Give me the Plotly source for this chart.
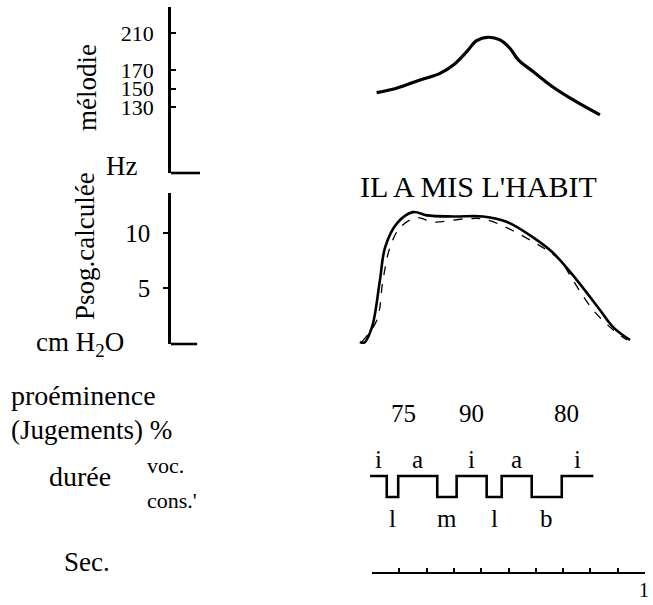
import plotly.graph_objects as go

# ---------------- data ----------------
# melody (Hz) over time (s)
mel_t = [0.017, 0.090, 0.176, 0.249, 0.298, 0.347, 0.383, 0.426, 0.469, 0.505, 0.536, 0.591, 0.664, 0.737, 0.835]
mel_hz = [145.5, 150.3, 159.2, 166.4, 175.4, 189.8, 201.7, 205.4, 202.5, 193.5, 180.9, 168.2, 151.3, 137.6, 121.4]
mel_ticks = [130, 150, 170, 210]

# subglottal pressure, computed (cm H2O): solid and dashed traces
ps_t = [-0.044, -0.03, 0.0, 0.029, 0.048, 0.092, 0.150, 0.201, 0.300, 0.407, 0.495, 0.590, 0.663, 0.751, 0.835, 0.883, 0.945]
ps_v = [0.1, 0.0, 1.45, 5.7, 8.7, 10.9, 11.9, 11.6, 11.5, 11.5, 11.0, 9.6, 8.2, 5.7, 3.0, 1.45, 0.27]
ps2_t = [-0.037, 0.018, 0.040, 0.066, 0.103, 0.165, 0.223, 0.348, 0.421, 0.590, 0.689, 0.736, 0.810, 0.883, 0.934]
ps2_v = [0.1, 2.1, 5.7, 8.7, 10.5, 11.4, 11.0, 11.3, 11.2, 9.2, 7.5, 5.7, 3.0, 1.2, 0.27]
ps_ticks = [5, 10]

# prominence judgements (%)
prom_t = [0.117, 0.363, 0.714]
prom_val = [75, 90, 80]

# durations: segment boundaries (s) and phones
dur_bounds = [-0.007, 0.054, 0.096, 0.239, 0.310, 0.420, 0.475, 0.585, 0.695, 0.811]
phones = ['i', 'l', 'a', 'm', 'i', 'l', 'a', 'b', 'i']
vowels = {'i', 'a'}

# seconds scale
sec_ticks = [0, 0.1, 0.2, 0.3, 0.4, 0.5, 0.6, 0.7, 0.8, 0.9, 1.0]
sec_label_val = 1
sec_label = "1"

title_text = "IL A MIS L'HABIT"

# ---------------- layout helpers ----------------
W, H = 653, 605
FONT = "Liberation Serif"
def px_x(p):
    return p / W
def px_y(p):
    return 1 - p / H

X_LEFT = 171      # left axes line position (px)
T0_PX, T1_PX = 372, 645   # time 0 and 1 s (px)
pps = T1_PX - T0_PX
x_range = [(X_LEFT - T0_PX) / pps, (W - T0_PX) / pps]

fig = go.Figure()

fig.add_trace(go.Scatter(x=mel_t, y=mel_hz, mode='lines', line=dict(color='black', width=3.2, shape='spline'),
                         xaxis='x', yaxis='y', showlegend=False, hoverinfo='skip'))
fig.add_trace(go.Scatter(x=ps2_t, y=ps2_v, mode='lines', line=dict(color='black', width=1.3, dash='dash', shape='spline'),
                         xaxis='x', yaxis='y2', showlegend=False, hoverinfo='skip'))
fig.add_trace(go.Scatter(x=ps_t, y=ps_v, mode='lines', line=dict(color='black', width=2.6, shape='spline'),
                         xaxis='x', yaxis='y2', showlegend=False, hoverinfo='skip'))

levels = [1 if p in vowels else 0 for p in phones]
step_x = dur_bounds
step_y = levels + [levels[-1]]
fig.add_trace(go.Scatter(x=step_x, y=step_y, mode='lines', line=dict(color='black', width=2.6, shape='hv'),
                         xaxis='x', yaxis='y3', showlegend=False, hoverinfo='skip'))
# dummy trace so the seconds axis exists
fig.add_trace(go.Scatter(x=[0, 1], y=[0, 0], mode='lines', line=dict(width=0), opacity=0,
                         xaxis='x2', yaxis='y3', showlegend=False, hoverinfo='skip'))

annotations = []
def txt(s, x, y, size=24, xref='paper', yref='paper', xanchor='center', yanchor='middle', angle=0, xshift=0):
    annotations.append(dict(text=s, x=x, y=y, xref=xref, yref=yref, xanchor=xanchor, yanchor=yanchor,
                            showarrow=False, textangle=angle, xshift=xshift, borderpad=0,
                            font=dict(family=FONT, size=size, color='black')))

# phone labels (midpoints of segments)
for i, p in enumerate(phones):
    mid = (dur_bounds[i] + dur_bounds[i + 1]) / 2
    if p in vowels:
        txt(p, mid, px_y(459), size=25, xref='x')
    else:
        txt(p, mid, px_y(518), size=25, xref='x')

for t, v in zip(prom_t, prom_val):
    txt(str(v), t, px_y(413), size=25, xref='x')

txt(title_text, px_x(478), px_y(186), size=30)
txt("mélodie", px_x(87), px_y(88), size=27, angle=-90)
txt("Hz", px_x(121), px_y(166), size=27)
txt("Psog.calculée", px_x(85), px_y(246), size=27, angle=-90)
txt("cm H<sub>2</sub>O", px_x(35), px_y(344), size=27, xanchor='left')
txt("proéminence", px_x(10), px_y(395), size=28, xanchor='left')
txt("(Jugements) %", px_x(10), px_y(430), size=27, xanchor='left')
txt("durée", px_x(48), px_y(477), size=28, xanchor='left')
txt("voc.", px_x(146), px_y(465), size=22, xanchor='left')
txt("cons.'", px_x(146), px_y(500), size=22, xanchor='left')
txt("Sec.", px_x(63), px_y(562), size=27, xanchor='left')
txt(sec_label, sec_label_val, px_y(590), size=20, xref='x2', xshift=-1)

stub = (200 - X_LEFT) / (W - X_LEFT)
shapes = [
    dict(type='line', xref='x domain', yref='y domain', x0=0, x1=stub, y0=0, y1=0, line=dict(color='black', width=2.6)),
    dict(type='line', xref='x domain', yref='y2 domain', x0=0, x1=stub - 0.006, y0=0, y1=0, line=dict(color='black', width=2.6)),
]

# melody axis mapping: 210 Hz at 33 px, 0.925 px/Hz
mel_scale = 0.925
mel_range = [210 - (173 - 33) / mel_scale, 210 + (33 - 7) / mel_scale]
# Psog mapping: 0 at 343 px, 11 px/unit
ps_range = [(343 - 344) / 11, (343 - 193) / 11]
# step axis: 1 at 476px, 0 at 497px
step_top, step_bot = 465.5, 507.5
step_range = [-0.5, 1.5]

axis_common = dict(showgrid=False, zeroline=False, showline=True, linecolor='black', linewidth=2.6,
                   tickcolor='black', tickwidth=2)

fig.update_layout(
    width=W, height=H,
    margin=dict(l=0, r=0, t=0, b=0),
    paper_bgcolor='white', plot_bgcolor='rgba(0,0,0,0)',
    showlegend=False,
    xaxis=dict(domain=[px_x(X_LEFT), 1], range=x_range, visible=False, fixedrange=True),
    xaxis2=dict(domain=[px_x(T0_PX), px_x(T1_PX)], range=[0, 1], anchor='free', position=px_y(573),
                tickvals=sec_ticks, showticklabels=False, ticks='inside', ticklen=4,
                showgrid=False, zeroline=False, showline=True, linecolor='black', linewidth=2.2,
                tickcolor='black', tickwidth=1.6),
    yaxis=dict(domain=[px_y(173), px_y(7)], range=mel_range, anchor='x',
               tickvals=mel_ticks, ticks='inside', ticklen=5, ticklabelstandoff=10,
               tickfont=dict(family=FONT, size=22, color='black'), **axis_common),
    yaxis2=dict(domain=[px_y(344), px_y(193)], range=ps_range, anchor='x',
                tickvals=ps_ticks, ticks='outside', ticklen=5, ticklabelstandoff=8,
                tickfont=dict(family=FONT, size=25, color='black'), **axis_common),
    yaxis3=dict(domain=[px_y(step_bot), px_y(step_top)], range=step_range, anchor='x', visible=False),
    annotations=annotations,
    shapes=shapes,
)

fig.write_html("out.html", config={'displayModeBar': False},
               post_script="document.body.style.margin='0px';")
